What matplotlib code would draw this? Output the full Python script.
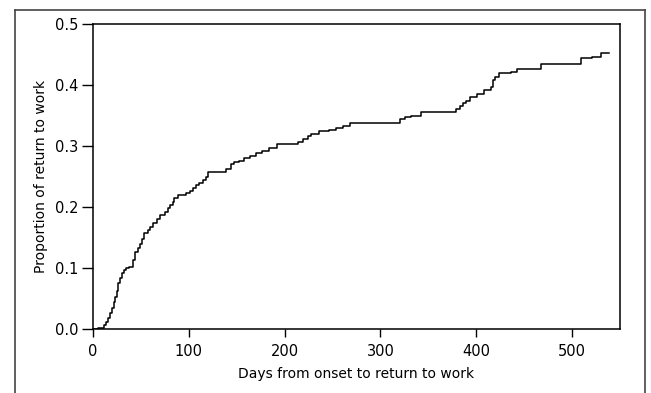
import matplotlib
matplotlib.use("Agg")
import matplotlib.pyplot as plt
from matplotlib.lines import Line2D

# Kaplan-Meier style cumulative proportion of return to work (step points)
days = [0, 5, 11, 14, 16, 18, 20, 22, 23, 25, 26, 28, 30, 32, 34, 38,
        42, 44, 47, 49, 51, 53, 57, 60, 63, 67, 70, 75, 78, 80, 83, 85,
        89, 97, 101, 104, 108, 111, 115, 118, 120, 139, 144, 147, 152, 158,
        164, 170, 176, 184, 192, 214, 219, 224, 228, 236, 246, 254, 261, 268,
        320, 326, 332, 342, 379, 383, 386, 389, 393, 401, 408, 415, 417, 420,
        424, 436, 443, 468, 509, 521, 530, 538]
proportion = [0.0, 0.002, 0.007, 0.012, 0.018, 0.026, 0.034, 0.045, 0.053, 0.062,
              0.075, 0.083, 0.091, 0.096, 0.0995, 0.101, 0.113, 0.127, 0.133, 0.14,
              0.148, 0.157, 0.162, 0.167, 0.173, 0.18, 0.187, 0.192, 0.198, 0.203,
              0.209, 0.214, 0.22, 0.223, 0.227, 0.231, 0.236, 0.239, 0.244, 0.25,
              0.257, 0.263, 0.27, 0.273, 0.276, 0.28, 0.284, 0.289, 0.292, 0.296,
              0.304, 0.307, 0.311, 0.316, 0.32, 0.324, 0.326, 0.329, 0.333, 0.338,
              0.345, 0.347, 0.349, 0.355, 0.36, 0.365, 0.37, 0.374, 0.381, 0.386,
              0.392, 0.397, 0.408, 0.413, 0.419, 0.422, 0.427, 0.434, 0.444, 0.446,
              0.452, 0.452]

x_ticks = [0, 100, 200, 300, 400, 500]
y_ticks = [0.0, 0.1, 0.2, 0.3, 0.4, 0.5]
y_tick_labels = ["0.0", "0.1", "0.2", "0.3", "0.4", "0.5"]
x_label = "Days from onset to return to work"
y_label = "Proportion of return to work"

W, H = 651, 393
fig = plt.figure(figsize=(W / 100, H / 100), dpi=100)
fig.patch.set_facecolor("white")

left, right, top, bottom = 93, 620, 24, 329
ax = fig.add_axes([left / W, 1 - bottom / H, (right - left) / W, (bottom - top) / H])

ax.step(days, proportion, where="post", color="black", linewidth=1.1)

ax.set_xlim(0, 550)
ax.set_ylim(0, 0.5)
ax.set_xticks(x_ticks)
ax.set_yticks(y_ticks)
ax.set_yticklabels(y_tick_labels)
ax.tick_params(axis="y", direction="out", length=8, width=1.0, labelsize=10.5, pad=2.5, colors="black")
ax.tick_params(axis="x", direction="out", length=6, width=1.0, labelsize=10.5, pad=4.5, colors="black")
for s in ax.spines.values():
    s.set_linewidth(1.1)
    s.set_color("black")

ax.set_xlabel(x_label, fontsize=10, labelpad=6)
ax.set_ylabel(y_label, fontsize=10, labelpad=5)

# outer frame of the scanned figure
frame_col = "#444444"
fig.add_artist(Line2D([15 / W, 15 / W], [0, 1 - 10 / H], transform=fig.transFigure, color=frame_col, lw=1.2))
fig.add_artist(Line2D([15 / W, 645 / W], [1 - 10 / H, 1 - 10 / H], transform=fig.transFigure, color=frame_col, lw=1.2))
fig.add_artist(Line2D([645 / W, 645 / W], [1 - 10 / H, 0], transform=fig.transFigure, color=frame_col, lw=1.2))

fig.savefig("out.png", dpi=100, facecolor="white")
